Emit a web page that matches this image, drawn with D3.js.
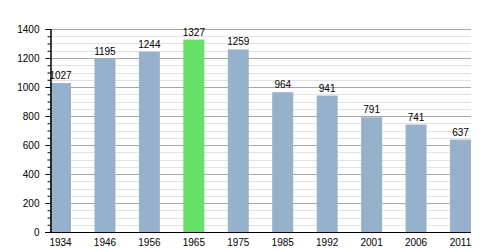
<!DOCTYPE html>
<html>
<head>
<meta charset="utf-8">
<script src="https://cdn.jsdelivr.net/npm/d3@7"></script>
<style>
  body { margin: 0; background: #fff; }
  text { font-family: "Liberation Sans", Arial, sans-serif; }
</style>
</head>
<body>
<svg id="chart"></svg>
<script>
const years = ["1934", "1946", "1956", "1965", "1975", "1985", "1992", "2001", "2006", "2011"];
const population = [1027, 1195, 1244, 1327, 1259, 964, 941, 791, 741, 637];
const highlightYear = "1965";
const yTicks = [0, 200, 400, 600, 800, 1000, 1200, 1400];

const width = 500, height = 250;
const margin = { top: 29, right: 29, bottom: 18, left: 50 };

const svg = d3.select("#chart").attr("width", width).attr("height", height);

const x = d3.scaleBand()
    .domain(years)
    .range([margin.left, width - margin.right])
    .paddingInner(0.5275)
    .paddingOuter(0);

const y = d3.scaleLinear()
    .domain([0, 1400])
    .range([height - margin.bottom, margin.top]);

// grid lines, minor every 50, major every 200
const minor = d3.range(50, 1400, 50).filter(v => v % 200 != 0);
svg.append("g").selectAll("line")
    .data(minor)
    .join("line")
    .attr("x1", margin.left).attr("x2", width - margin.right)
    .attr("y1", d => Math.round(y(d)) + 0.5).attr("y2", d => Math.round(y(d)) + 0.5)
    .attr("stroke", "#e2e2e2");

svg.append("g").selectAll("line")
    .data(yTicks.filter(d => d > 0))
    .join("line")
    .attr("x1", margin.left).attr("x2", width - margin.right)
    .attr("y1", d => Math.round(y(d)) + 0.5).attr("y2", d => Math.round(y(d)) + 0.5)
    .attr("stroke", "#a8a8a8");

// bars
svg.append("g").selectAll("rect")
    .data(years)
    .join("rect")
    .attr("x", d => x(d))
    .attr("width", x.bandwidth())
    .attr("y", (d, i) => y(population[i]))
    .attr("height", (d, i) => y(0) - y(population[i]))
    .attr("fill", d => d == highlightYear ? "#66e066" : "#96b1cc");

// value labels
svg.append("g").selectAll("text")
    .data(years)
    .join("text")
    .attr("x", d => x(d) + x.bandwidth() / 2)
    .attr("y", (d, i) => y(population[i]) - 4)
    .attr("text-anchor", "middle")
    .attr("font-size", "10px")
    .attr("fill", "#000")
    .text((d, i) => population[i]);

// y axis
const yAxis = svg.append("g")
    .attr("transform", `translate(${margin.left + 0.5},0)`);
yAxis.call(d3.axisLeft(y).tickValues(minor).tickSize(3).tickFormat(""));
yAxis.append("g").call(d3.axisLeft(y).tickValues(yTicks).tickSize(5).tickPadding(6).tickFormat(d3.format("d")));
yAxis.selectAll("path.domain").attr("stroke", "#000");
yAxis.selectAll("line").attr("stroke", "#000");
yAxis.selectAll("text")
    .attr("font-size", "10px")
    .attr("font-family", "Liberation Sans, Arial, sans-serif")
    .attr("fill", "#000");

// x axis
const xAxis = svg.append("g")
    .attr("transform", `translate(0,${y(0) + 0.5})`);
xAxis.call(d3.axisBottom(x).tickSize(0).tickPadding(6));
xAxis.select("path.domain")
    .attr("d", `M${margin.left - 5},0H${width - margin.right}`)
    .attr("stroke", "#000");
xAxis.selectAll("text")
    .attr("font-size", "10px")
    .attr("font-family", "Liberation Sans, Arial, sans-serif")
    .attr("fill", "#000");
</script>
</body>
</html>
